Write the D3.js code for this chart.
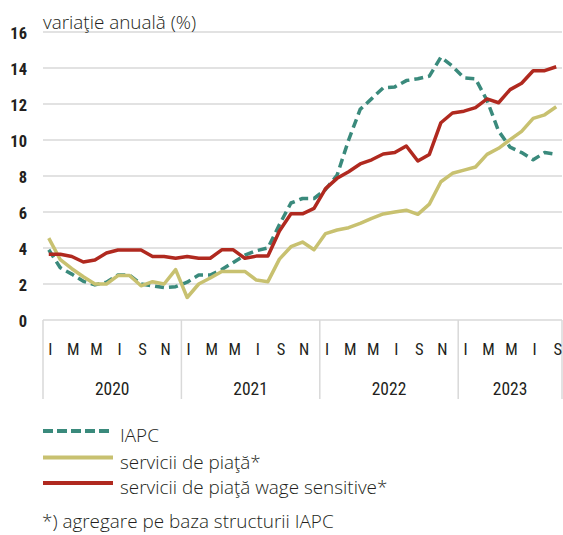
<!DOCTYPE html>
<html><head><meta charset="utf-8">
<script src="https://cdn.jsdelivr.net/npm/d3@7"></script>
<style>
html,body{margin:0;padding:0;background:#fff;}
svg{display:block;}
</style></head>
<body><svg id="c" width="563" height="535"></svg>
<script>
const years = ["2020","2021","2022","2023"];
const monthLetters = ["I","F","M","A","M","I","I","A","S","O","N","D"];
const labeledMonths = [0,2,4,6,8,10];
const yTicks = [0,2,4,6,8,10,12,14,16];

const iapc = [3.9,2.9,2.55,2.15,1.95,2.1,2.5,2.5,2.0,1.9,1.8,1.85,
  2.1,2.5,2.5,2.8,3.2,3.6,3.85,4.0,5.3,6.5,6.75,6.75,
  7.25,8.05,10.0,11.7,12.3,12.9,12.95,13.3,13.4,13.55,14.6,14.1,
  13.45,13.4,12.2,10.5,9.6,9.3,8.9,9.3,9.2];
const serviciiPiata = [4.55,3.35,2.85,2.4,2.0,2.0,2.47,2.47,1.9,2.13,2.0,2.8,
  1.25,2.0,2.33,2.7,2.7,2.7,2.22,2.13,3.38,4.07,4.33,3.9,
  4.8,5.0,5.13,5.37,5.65,5.89,6.0,6.1,5.87,6.44,7.68,8.15,
  8.33,8.5,9.2,9.54,10.02,10.48,11.2,11.4,11.85];
const wageSensitive = [3.65,3.65,3.53,3.22,3.33,3.72,3.89,3.89,3.89,3.53,3.53,3.43,
  3.53,3.43,3.43,3.9,3.9,3.43,3.55,3.55,4.95,5.9,5.9,6.2,
  7.3,7.87,8.24,8.67,8.9,9.22,9.3,9.67,8.83,9.2,10.96,11.5,
  11.6,11.8,12.28,12.07,12.8,13.15,13.85,13.85,14.07];

const seriesNames = ["IAPC","servicii de piaţă*","servicii de piaţă wage sensitive*"];
const footnote = "*) agregare pe baza structurii IAPC";
const title = "variaţie anuală (%)";

// build month list
const months = [];
years.forEach(y => { for (let m = 0; m < 12; m++) if (months.length < iapc.length) months.push({y, m, key: y + "-" + m}); });

const svg = d3.select("#c");
const L = 43, R = 562, T = 32, B = 320;
const x = d3.scaleBand().domain(months.map(d => d.key)).range([L, R]);
const xc = k => x(k) + x.bandwidth() / 2;
const y = d3.scaleLinear().domain([0, 16]).range([B, T]);

const condFont = "'Liberation Sans Narrow','Roboto Condensed','DejaVu Sans Condensed',Roboto,sans-serif";
const textFont = "'Open Sans','Noto Sans',sans-serif";
const ink = "#231f20";
const fs = 18.9;

// gridlines
svg.append("g").selectAll("line").data(yTicks.filter(t => t > 0)).join("line")
  .attr("x1", L).attr("x2", R).attr("y1", d => y(d)).attr("y2", d => y(d))
  .attr("stroke", "#d9d9d9").attr("stroke-width", 1.5);

// y labels
const yAxis = d3.axisLeft(y).tickValues(yTicks).tickSize(0).tickPadding(0);
const ga = svg.append("g").attr("transform", `translate(27,1)`).call(yAxis);
ga.select(".domain").remove();
ga.selectAll("text").attr("font-family", condFont).attr("font-size", 16.5).attr("fill", ink)
  .attr("font-weight", "bold").attr("dy", "0.35em");

// title
svg.append("text").attr("x", L).attr("y", 29).text(title)
  .attr("font-family", textFont).attr("font-weight", 300).attr("font-size", fs).attr("fill", ink);

// x box
const boxBottom = 399;
svg.append("line").attr("x1", L).attr("x2", R).attr("y1", B).attr("y2", B)
  .attr("stroke", "#d9d9d9").attr("stroke-width", 1.5);
const yearStarts = years.map(yr => months.find(d => d.y === yr).key);
const seps = yearStarts.map(k => x(k)).concat([R]);
svg.append("g").selectAll("line").data(seps).join("line")
  .attr("x1", d => d).attr("x2", d => d).attr("y1", B).attr("y2", boxBottom)
  .attr("stroke", "#d9d9d9").attr("stroke-width", 1.5);

// month labels
svg.append("g").selectAll("text").data(months.filter(d => labeledMonths.includes(d.m))).join("text")
  .attr("x", d => xc(d.key) + 1.5).attr("y", 355).attr("text-anchor", "middle")
  .attr("font-family", condFont).attr("font-size", 16.5).attr("fill", ink)
  .text(d => monthLetters[d.m]);

// year labels
svg.append("g").selectAll("text").data(years).join("text")
  .attr("x", (d, i) => (seps[i] + seps[i + 1]) / 2).attr("y", 395).attr("text-anchor", "middle")
  .attr("font-family", condFont).attr("font-size", 17.5).attr("fill", ink)
  .text(d => d);

// lines
const colors = ["#3a8a7c", "#c8c170", "#b0291f"];
const dashes = ["9,5", null, null];
const data = [iapc, serviciiPiata, wageSensitive];
const line = d3.line().x((d, i) => xc(months[i].key)).y(d => y(d));
data.forEach((s, i) => {
  svg.append("path").datum(s).attr("d", line).attr("fill", "none")
    .attr("stroke", colors[i]).attr("stroke-width", 3.5)
    .attr("stroke-linejoin", "round")
    .attr("stroke-dasharray", dashes[i]);
});

// legend
const legY = [431, 457.5, 483];
const lg = svg.append("g");
seriesNames.forEach((n, i) => {
  lg.append("line").attr("x1", 43).attr("x2", 113).attr("y1", legY[i]).attr("y2", legY[i])
    .attr("stroke", colors[i]).attr("stroke-width", 4)
    .attr("stroke-dasharray", i === 0 ? "10,4" : null);
  lg.append("text").attr("x", 120).attr("y", legY[i] + 11).text(n)
    .attr("font-family", textFont).attr("font-weight", 300).attr("font-size", fs).attr("fill", ink);
});
svg.append("text").attr("x", 42).attr("y", 528).text(footnote)
  .attr("font-family", textFont).attr("font-weight", 300).attr("font-size", fs).attr("fill", ink);
</script></body></html>
